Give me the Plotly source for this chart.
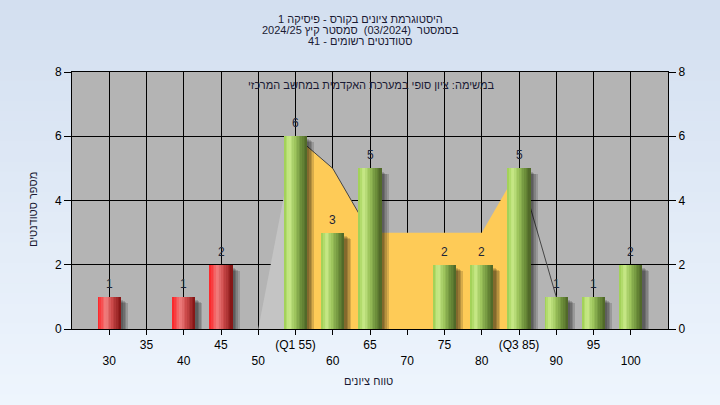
import plotly.graph_objects as go

# ---------------- data ----------------
CATEGORIES = [30, 35, 40, 45, 50, 55, 60, 65, 70, 75, 80, 85, 90, 95, 100]
COUNTS = [1, 0, 1, 2, 0, 6, 3, 5, 0, 2, 2, 5, 1, 1, 2]
TICK_TEXT = ["30", "35", "40", "45", "50", "(Q1 55)", "60", "65", "70", "75",
             "80", "(Q3 85)", "90", "95", "100"]
PASS_GRADE = 55

TAIL_X = [50, 55]
TAIL_Y = [0, 6]
IQR_X = [55, 60, 65, 70, 75, 80, 85]
IQR_Y = [6, 5, 3, 3, 3, 3, 5]
EDGE_X = [55, 60, 65, None, 85, 90]
EDGE_Y = [6, 5, 3, None, 5, 1]

Y_TICKS = [0, 2, 4, 6, 8]

TITLE_LINES = [
    "היסטוגרמת ציונים בקורס - פיסיקה 1",
    "בסמסטר  (03/2024)  סמסטר קיץ 2024/25",
    "סטודנטים רשומים - 41",
]
LEGEND_TEXT = "במשימה: ציון סופי במערכת האקדמית במחשב המרכזי"
X_TITLE = "טווח ציונים"
Y_TITLE = "מספר סטודנטים"

# ---------------- styling ----------------
FONT = "Liberation Sans, Arial, sans-serif"
BAR_W = 3.1
N_SLICES = 14
W, H = 720, 405
ML, MR, MT, MB = 72, 52, 72, 76
PW, PH = W - ML - MR, H - MT - MB


def px(p):
    return (p - ML) / PW


def py(p):
    return (H - MB - p) / PH


def lerp_profile(stops, t):
    for (t0, c0), (t1, c1) in zip(stops, stops[1:]):
        if t0 <= t <= t1:
            f = (t - t0) / (t1 - t0) if t1 > t0 else 0
            return tuple(round(a + (b - a) * f) for a, b in zip(c0, c1))
    return stops[-1][1]


GREEN = [(0.0, (155, 205, 80)), (0.22, (202, 234, 138)), (0.45, (160, 200, 95)),
         (0.75, (108, 142, 58)), (1.0, (76, 100, 38))]
RED = [(0.0, (252, 32, 36)), (0.35, (240, 128, 128)), (0.6, (205, 75, 75)),
       (1.0, (128, 18, 18))]

xs = [c for c, v in zip(CATEGORIES, COUNTS) if v > 0]
ys = [v for v in COUNTS if v > 0]
is_pass = [c >= PASS_GRADE for c in xs]

fig = go.Figure()

# distribution area (main subplot, underneath the bars)
fig.add_trace(go.Scatter(x=TAIL_X, y=TAIL_Y, mode="lines", fill="tozeroy",
                         fillcolor="#c4c4c4", line=dict(width=0),
                         hoverinfo="skip", showlegend=False))
fig.add_trace(go.Scatter(x=IQR_X, y=IQR_Y, mode="lines", fill="tozeroy",
                         fillcolor="#fecb57", line=dict(width=0),
                         hoverinfo="skip", showlegend=False))
fig.add_trace(go.Scatter(x=EDGE_X, y=EDGE_Y, mode="lines",
                         line=dict(color="#454545", width=1),
                         hoverinfo="skip", showlegend=False))

# bar shadows (overlay subplot, above the area)
for k, d in enumerate([0.95, 0.72, 0.5, 0.3]):
    fig.add_trace(go.Bar(
        x=xs, y=[v - 0.1 - 0.03 * (3 - k) for v in ys], yaxis="y2",
        width=BAR_W / 2 + d, offset=0.0,
        marker=dict(color="rgba(0,0,0,0.15)", line=dict(width=0)),
        hoverinfo="skip", showlegend=False))

# cylinder-shaded bars built from overlapping slices
for i in range(N_SLICES):
    t = (i + 0.5) / N_SLICES
    g = "rgb(%d,%d,%d)" % lerp_profile(GREEN, t)
    r = "rgb(%d,%d,%d)" % lerp_profile(RED, t)
    start = -BAR_W / 2 + i * BAR_W / N_SLICES
    fig.add_trace(go.Bar(
        x=xs, y=ys, yaxis="y2", width=BAR_W / 2 - start, offset=start,
        marker=dict(color=[g if p else r for p in is_pass], line=dict(width=0)),
        hoverinfo="skip", showlegend=False))

annotations = []
for c, v in zip(xs, ys):
    annotations.append(dict(x=c, y=v, xref="x", yref="y", text=str(v),
                            showarrow=False, yanchor="bottom", yshift=4,
                            font=dict(family=FONT, size=12, color="#1c2538")))

for line, ypix in zip(TITLE_LINES, [19, 30, 41]):
    annotations.append(dict(x=px(360), y=py(ypix), xref="paper", yref="paper",
                            text=line, showarrow=False, yanchor="middle",
                            font=dict(family=FONT, size=11, color="#1a1a33")))
annotations.append(dict(x=px(371), y=py(85), xref="paper", yref="paper",
                        text=LEGEND_TEXT, showarrow=False, yanchor="middle",
                        font=dict(family=FONT, size=11, color="#1a1a33")))
annotations.append(dict(x=px(368), y=py(381), xref="paper", yref="paper",
                        text=X_TITLE, showarrow=False, yanchor="middle",
                        font=dict(family=FONT, size=11, color="#1a1a33")))
annotations.append(dict(x=px(33), y=py(210), xref="paper", yref="paper",
                        text=Y_TITLE, showarrow=False, textangle=-90,
                        xanchor="center", yanchor="middle",
                        font=dict(family=FONT, size=11, color="#1a1a33")))

shapes = []
top, bot = (211, 223, 240), (238, 245, 253)
NB = 40
for b in range(NB):
    f = b / (NB - 1)
    col = "rgb(%d,%d,%d)" % tuple(round(a + (c - a) * f) for a, c in zip(top, bot))
    shapes.append(dict(type="rect", xref="paper", yref="paper", layer="below",
                       x0=-0.2, x1=1.2,
                       y0=py(b * H / NB) + 0.001, y1=py((b + 1) * H / NB) - 0.001,
                       fillcolor=col, line=dict(width=0)))
shapes.append(dict(type="rect", xref="paper", yref="paper", layer="below",
                   x0=0, x1=1, y0=0, y1=1, fillcolor="#b4b4b4", line=dict(width=0)))

ticktext = [t if i % 2 else "\u00a0<br>" + t for i, t in enumerate(TICK_TEXT)]

fig.update_layout(
    width=W, height=H, autosize=False,
    margin=dict(l=ML, r=MR, t=MT, b=MB),
    paper_bgcolor="#e0e9f6", plot_bgcolor="rgba(0,0,0,0)",
    barmode="overlay", bargap=0,
    showlegend=False,
    font=dict(family=FONT, size=12, color="#000000"),
    xaxis=dict(range=[25, 105], tickvals=CATEGORIES, ticktext=ticktext,
               showgrid=True, gridcolor="#000000", gridwidth=1,
               ticks="outside", ticklen=5, tickcolor="#000000",
               showline=True, linecolor="#000000", linewidth=1, mirror=True,
               zeroline=False, tickfont=dict(size=12, color="#000000")),
    yaxis=dict(range=[0, 8], tickvals=Y_TICKS,
               showgrid=True, gridcolor="#000000", gridwidth=1,
               ticks="outside", ticklen=7, tickcolor="#000000",
               showline=True, linecolor="#000000", linewidth=1, mirror=True,
               zeroline=False, tickfont=dict(size=12, color="#000000")),
    yaxis2=dict(range=[0, 8], tickvals=Y_TICKS, overlaying="y", side="right",
                showgrid=False, ticks="outside", ticklen=7, tickcolor="#000000",
                zeroline=False, tickfont=dict(size=12, color="#000000")),
    annotations=annotations,
    shapes=shapes,
)

fig.write_html("out.html", config={"displayModeBar": False},
               post_script="document.body.style.margin='0px';")
